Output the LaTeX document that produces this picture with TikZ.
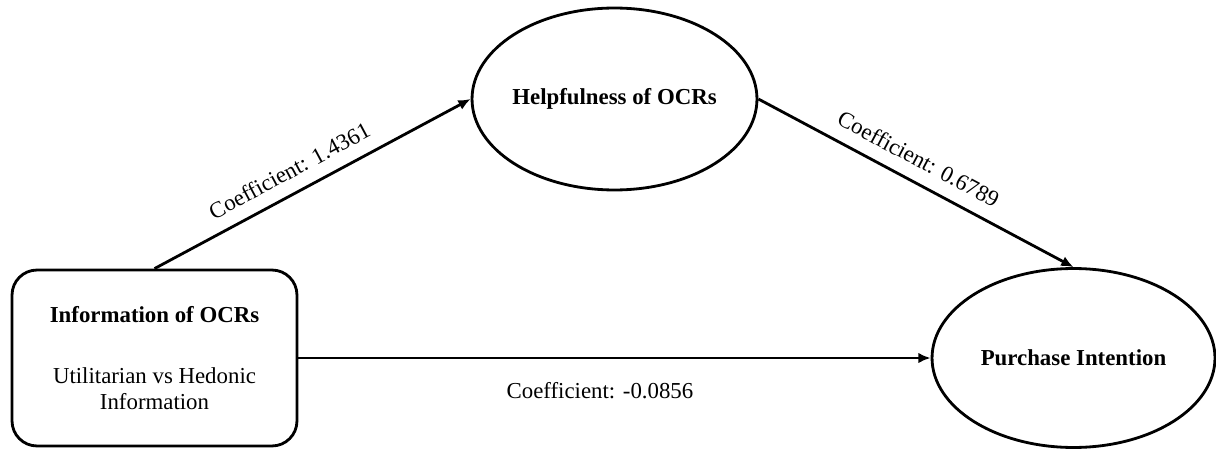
\documentclass[tikz,border=0pt]{standalone}
\usepackage{fontspec}
\setmainfont{Liberation Serif}
\usepackage{tikz}
\usetikzlibrary{arrows.meta,shapes.geometric}

\begin{document}
\begin{tikzpicture}[x=0.02cm,y=0.02cm,
  every node/.style={font=\fontsize{13}{15}\selectfont},
  construct/.style={draw,line width=1.6pt,rounded corners=0.5cm,minimum width=5.7cm,minimum height=3.52cm,align=center},
  latent/.style={draw,ellipse,line width=1.6pt,inner sep=0pt},
  effect/.style={line width=1.6pt,-{Latex[length=7pt,width=6pt]}}]
\useasboundingbox (0,0) rectangle (1216,450);
\node[construct] (info) at (154.5,92) {\textbf{Information of OCRs}\\[20pt]Utilitarian vs Hedonic\\Information};
\node[latent,minimum width=5.7cm,minimum height=3.64cm,label={center:\textbf{Helpfulness of OCRs}}] (help) at (614.5,351) {};
\node[latent,minimum width=5.66cm,minimum height=3.58cm,label={center:\textbf{Purchase Intention}}] (purch) at (1073.5,92) {};
\draw[effect] (info.north) -- node[sloped,above=4pt,pos=0.46] (c1) {Coefficient: 1.4361} (help.west);
\draw[effect] (help.east) -- node[sloped,above=4pt,pos=0.475] (c2) {Coefficient: 0.6789} (purch.north);
\draw[effect] (info.east) -- node[below=10pt,pos=0.477] (c3) {Coefficient: -0.0856} (purch.west);
\end{tikzpicture}
\end{document}
